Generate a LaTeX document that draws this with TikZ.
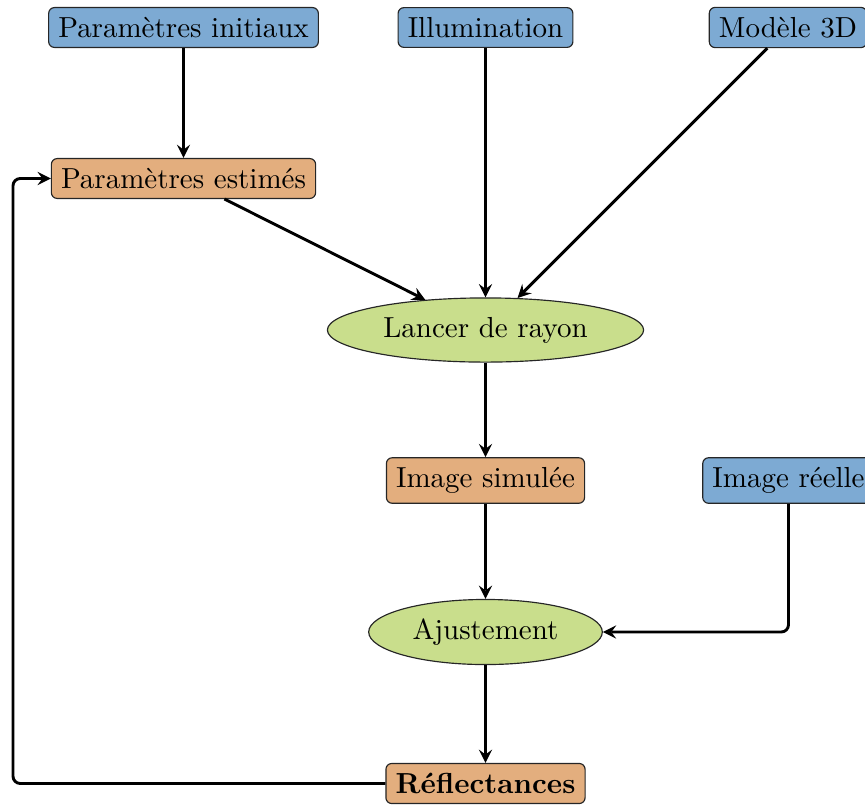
\documentclass[tikz,border=0pt]{standalone}
\usepackage{fontspec}
\usetikzlibrary{shapes.geometric,arrows}
\definecolor{cblue}{RGB}{125,170,211}
\definecolor{corange}{RGB}{227,174,126}
\definecolor{cgreen}{RGB}{201,222,140}
\tikzset{
  inbox/.style={draw=black!85, line width=0.4pt, rounded corners=2pt, fill=cblue},
  midbox/.style={draw=black!85, line width=0.4pt, rounded corners=2pt, fill=corange},
  procell/.style={ellipse, draw=black!85, line width=0.4pt, fill=cgreen},
  conn/.style={->, >=stealth, line width=1pt},
}
\begin{document}
\begin{tikzpicture}[x=0.345pt, y=-0.345pt]
\useasboundingbox (0,0) rectangle (865,805);
\node[inbox] (init) at (183.5,27.5) {Paramètres initiaux};
\node[inbox] (illum) at (485.5,27.5) {Illumination};
\node[inbox] (model) at (788,27.5) {Modèle 3D};
\node[midbox] (est) at (183.5,178.5) {Paramètres estimés};
\node[procell] (ray) at (485.5,330) {Lancer de rayon};
\node[midbox] (sim) at (485.5,480.5) {Image simulée};
\node[inbox] (reel) at (788.5,480.5) {Image réelle};
\node[procell] (fit) at (485.5,632) {Ajustement};
\node[midbox] (refl) at (485.5,783.5) {\textbf{Réflectances}};
\coordinate (fb) at (13,178.5);

\draw[conn] (init) -- (est);
\draw[conn] (illum) -- (ray);
\draw[conn] (model) -- (ray);
\draw[conn] (est) -- (ray);
\draw[conn] (ray) -- (sim);
\draw[conn] (sim) -- (fit);
\draw[conn, rounded corners=2.5pt] (reel.south) |- (fit.east);
\draw[conn] (fit) -- (refl);
\draw[conn, rounded corners=2.5pt] (refl.west) -| (fb) -- (est.west);
\end{tikzpicture}
\end{document}
